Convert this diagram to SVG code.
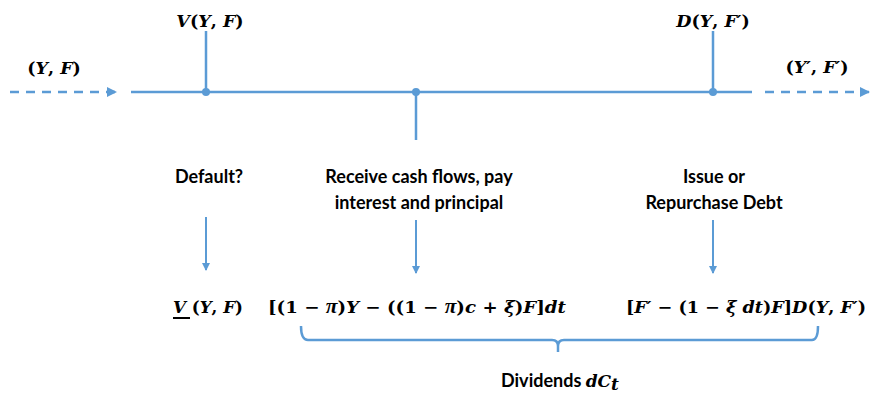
<svg xmlns="http://www.w3.org/2000/svg" width="870" height="395" viewBox="0 0 870 395">
<style>
.ln{stroke:#5B9BD5;stroke-width:2.5;fill:none}
.ds{stroke:#5B9BD5;stroke-width:2.5;fill:none;stroke-dasharray:9 7}
.ar{stroke:#5B9BD5;stroke-width:2;fill:none}
.lbl{font-family:Lato,"Open Sans","Liberation Sans",sans-serif;font-weight:bold;font-size:18px;fill:#000;text-anchor:middle}
.m{font-family:"DejaVu Serif","Liberation Serif",serif;font-weight:bold;font-size:17px;fill:#000}
.t{font-size:17.5px}
.i{font-style:italic}
.pi{font-family:"Liberation Serif",serif;font-size:20px}
</style>
<defs>
<marker id="ah" markerWidth="10" markerHeight="10" refX="9" refY="5" orient="auto" markerUnits="userSpaceOnUse">
<path d="M0,0 L10,5 L0,10 Z" fill="#5B9BD5"/>
</marker>
<marker id="ah2" markerWidth="8" markerHeight="8" refX="7" refY="4" orient="auto" markerUnits="userSpaceOnUse">
<path d="M0,0 L8,4 L0,8 Z" fill="#5B9BD5"/>
</marker>
</defs>
<g id="connectors">
<line class="ds" x1="10" y1="92" x2="116" y2="92" marker-end="url(#ah)"/>
<line class="ln" x1="131" y1="92" x2="752" y2="92"/>
<line class="ds" x1="765" y1="92" x2="869" y2="92" marker-end="url(#ah)"/>
<line class="ln" x1="206" y1="92" x2="206" y2="31"/>
<line class="ln" x1="713" y1="92" x2="713" y2="31"/>
<line class="ln" x1="416" y1="92" x2="416" y2="140"/>
<line class="ar" x1="206" y1="217" x2="206" y2="270" marker-end="url(#ah2)"/>
<line class="ar" x1="416" y1="220" x2="416" y2="273" marker-end="url(#ah2)"/>
<line class="ar" x1="713" y1="220" x2="713" y2="273" marker-end="url(#ah2)"/>
<path class="ln" d="M301,326 Q301,340 308,340 L552,340 Q558,340 558,346 L558,352 M558,346 Q558,340 564,340 L812,340 Q818,340 818,326"/>
</g>
<g id="dots" fill="#5B9BD5">
<circle cx="206" cy="92" r="4"/>
<circle cx="416" cy="92" r="4"/>
<circle cx="713" cy="92" r="4"/>
</g>
<g id="state-left"><text class="m t" x="54" y="74" text-anchor="middle">(<tspan class="i">Y</tspan>, <tspan class="i">F</tspan>)</text></g>
<g id="value"><text class="m t" x="210" y="27" text-anchor="middle"><tspan class="i">V</tspan>(<tspan class="i">Y</tspan>, <tspan class="i">F</tspan>)</text></g>
<g id="debt-price"><text class="m t" x="713" y="27" text-anchor="middle"><tspan class="i">D</tspan>(<tspan class="i">Y</tspan>, <tspan class="i">F′</tspan>)</text></g>
<g id="state-right"><text class="m t" x="817" y="73" text-anchor="middle">(<tspan class="i">Y′</tspan>, <tspan class="i">F′</tspan>)</text></g>
<g id="default"><text class="lbl" x="209" y="183">Default?</text></g>
<g id="receive"><text class="lbl" x="419" y="183">Receive cash flows, pay</text><text class="lbl" x="419" y="209">interest and principal</text></g>
<g id="issue"><text class="lbl" x="714" y="183">Issue or</text><text class="lbl" x="714" y="209">Repurchase Debt</text></g>
<g id="default-value"><text class="m" x="173" y="313" textLength="70" lengthAdjust="spacingAndGlyphs"><tspan class="i">V</tspan> (<tspan class="i">Y</tspan>, <tspan class="i">F</tspan>)</text><line x1="173" y1="318" x2="190" y2="318" stroke="#000" stroke-width="2"/></g>
<g id="cashflow"><text class="m" x="268" y="313" textLength="298" lengthAdjust="spacingAndGlyphs">[(1 − <tspan class="i pi">π</tspan>)<tspan class="i">Y</tspan> − ((1 − <tspan class="i pi">π</tspan>)<tspan class="i">c</tspan> + <tspan class="i">ξ</tspan>)<tspan class="i">F</tspan>]<tspan class="i">dt</tspan></text></g>
<g id="issuance"><text class="m" x="626" y="313" textLength="240" lengthAdjust="spacingAndGlyphs">[<tspan class="i">F′</tspan> − (1 − <tspan class="i">ξ dt</tspan>)<tspan class="i">F</tspan>]<tspan class="i">D</tspan>(<tspan class="i">Y</tspan>, <tspan class="i">F′</tspan>)</text></g>
<g id="dividends"><text class="lbl" x="560" y="387">Dividends <tspan class="m i" font-size="17">dC</tspan><tspan class="m i" font-size="12" dy="3">t</tspan></text></g>
</svg>
